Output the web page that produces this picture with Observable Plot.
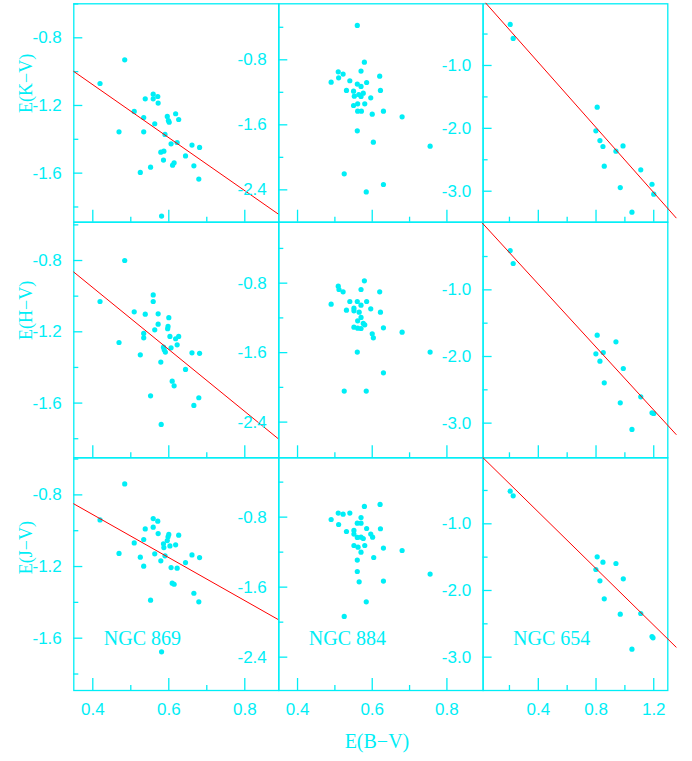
<!DOCTYPE html>
<html><head><meta charset="utf-8">
<script src="https://cdn.jsdelivr.net/npm/d3@7"></script>
<script src="https://cdn.jsdelivr.net/npm/@observablehq/plot@0.6"></script>
<style>
html,body{margin:0;padding:0;background:#fff;}
#chart{position:relative;width:692px;height:761px;overflow:hidden;}
#chart svg{position:absolute;left:0;top:0;max-width:none;}
</style></head><body><div id="chart"></div>
<script>
// ---------- data ----------
const clusters = ["NGC 869", "NGC 884", "NGC 654"];
const yTitles = ["E(K\u2212V)", "E(H\u2212V)", "E(J\u2212V)"];
const xTitle = "E(B\u2212V)";

// NGC 869
const k869_x = [0.484,0.419,0.559,0.571,0.559,0.538,0.572,0.509,0.618,0.596,0.534,0.626,0.599,0.601,0.563,0.469,0.534,0.590,0.622,0.606,0.661,0.681,0.587,0.579,0.644,0.586,0.614,0.610,0.666,0.552,0.525,0.679,0.581];
const k869_y = [-0.930,-1.070,-1.133,-1.147,-1.161,-1.161,-1.186,-1.235,-1.249,-1.265,-1.271,-1.283,-1.289,-1.299,-1.308,-1.356,-1.356,-1.371,-1.419,-1.427,-1.434,-1.448,-1.470,-1.476,-1.498,-1.523,-1.539,-1.553,-1.557,-1.565,-1.596,-1.635,-1.854];
const h869_x = [0.484,0.419,0.559,0.559,0.509,0.538,0.572,0.600,0.572,0.598,0.597,0.563,0.534,0.534,0.603,0.626,0.618,0.469,0.622,0.606,0.586,0.588,0.591,0.525,0.661,0.681,0.579,0.644,0.609,0.614,0.552,0.679,0.666,0.580];
const h869_y = [-0.800,-1.030,-0.993,-1.030,-1.088,-1.101,-1.099,-1.121,-1.157,-1.170,-1.183,-1.189,-1.209,-1.234,-1.226,-1.226,-1.239,-1.260,-1.273,-1.290,-1.286,-1.301,-1.314,-1.329,-1.318,-1.321,-1.370,-1.411,-1.477,-1.503,-1.559,-1.570,-1.613,-1.720];
const j869_x = [0.484,0.419,0.559,0.571,0.559,0.538,0.572,0.600,0.626,0.598,0.596,0.534,0.509,0.586,0.618,0.603,0.587,0.469,0.563,0.590,0.661,0.525,0.681,0.579,0.644,0.534,0.606,0.622,0.609,0.614,0.666,0.552,0.679,0.581];
const j869_y = [-0.739,-0.940,-0.932,-0.947,-0.980,-0.990,-1.016,-1.021,-1.025,-1.034,-1.055,-1.049,-1.068,-1.073,-1.079,-1.085,-1.094,-1.127,-1.129,-1.140,-1.135,-1.148,-1.150,-1.168,-1.178,-1.198,-1.206,-1.209,-1.293,-1.299,-1.349,-1.388,-1.397,-1.676];

// NGC 884
const k884_x = [0.560,0.579,0.509,0.522,0.570,0.620,0.510,0.490,0.540,0.560,0.585,0.570,0.531,0.550,0.622,0.564,0.576,0.552,0.570,0.596,0.561,0.580,0.550,0.561,0.571,0.630,0.600,0.680,0.560,0.603,0.755,0.525,0.630,0.584];
const k884_y = [-0.377,-0.829,-0.948,-0.976,-0.939,-1.001,-1.022,-1.075,-1.058,-1.099,-1.079,-1.128,-1.177,-1.186,-1.177,-1.227,-1.211,-1.248,-1.251,-1.268,-1.342,-1.342,-1.362,-1.432,-1.432,-1.432,-1.469,-1.502,-1.674,-1.813,-1.863,-2.203,-2.334,-2.425];
const h884_x = [0.579,0.509,0.511,0.522,0.570,0.620,0.490,0.540,0.560,0.585,0.570,0.531,0.551,0.551,0.596,0.622,0.565,0.570,0.561,0.576,0.580,0.551,0.561,0.570,0.630,0.680,0.600,0.603,0.560,0.755,0.630,0.525,0.584];
const h884_y = [-0.773,-0.835,-0.873,-0.900,-0.873,-0.900,-1.042,-1.011,-1.011,-1.011,-1.053,-1.111,-1.088,-1.118,-1.095,-1.134,-1.134,-1.195,-1.234,-1.264,-1.280,-1.307,-1.318,-1.322,-1.314,-1.364,-1.383,-1.429,-1.594,-1.594,-1.832,-2.043,-2.043];
const j884_x = [0.621,0.579,0.509,0.522,0.540,0.490,0.570,0.510,0.560,0.570,0.585,0.622,0.531,0.551,0.551,0.596,0.601,0.560,0.570,0.576,0.551,0.562,0.580,0.630,0.680,0.570,0.604,0.560,0.560,0.755,0.565,0.630,0.584,0.525];
const j884_y = [-0.655,-0.678,-0.754,-0.766,-0.754,-0.827,-0.804,-0.884,-0.869,-0.869,-0.930,-0.933,-0.964,-0.952,-0.994,-0.994,-1.029,-1.032,-1.029,-1.044,-1.124,-1.143,-1.124,-1.154,-1.181,-1.200,-1.261,-1.291,-1.421,-1.451,-1.539,-1.531,-1.768,-1.935];

// NGC 654
const k654_x = [0.205,0.226,0.808,0.799,0.827,0.848,0.987,0.938,0.857,1.110,1.188,0.968,1.200,1.049];
const k654_y = [-0.347,-0.570,-1.663,-2.040,-2.194,-2.289,-2.279,-2.363,-2.602,-2.660,-2.889,-2.942,-3.048,-3.334];
const h654_x = [0.205,0.226,0.808,0.938,0.799,0.850,0.827,0.989,0.857,1.110,0.968,1.188,1.200,1.049];
const h654_y = [-0.410,-0.605,-1.680,-1.780,-1.960,-1.940,-2.070,-2.180,-2.395,-2.605,-2.695,-2.845,-2.855,-3.095];
const j654_x = [0.205,0.226,0.808,0.848,0.938,0.799,0.989,0.827,0.857,0.968,1.110,1.188,1.195,1.049];
const j654_y = [-0.510,-0.580,-1.495,-1.575,-1.595,-1.685,-1.825,-1.855,-2.125,-2.355,-2.345,-2.690,-2.710,-2.880];

// fitted lines (end points)
const fitK869_x = [0.35, 0.8895], fitK869_y = [-0.999, -1.844];
const fitH869_x = [0.35, 0.888],  fitH869_y = [-0.865, -1.800];
const fitJ869_x = [0.35, 0.888],  fitJ869_y = [-0.850, -1.496];
const fitK654_x = [0.036, 1.355], fitK654_y = [-0.008, -3.424];
const fitH654_x = [0.013, 1.355], fitH654_y = [0.0, -3.17];
const fitJ654_x = [0.017, 1.355], fitJ654_y = [-0.01, -2.85];

// ticks per column
const xMajor = [[0.4,0.6,0.8],[0.4,0.6,0.8],[0.4,0.8,1.2]];
const xMinor = [[0.5,0.7],[0.5,0.7],[0.2,0.6,1.0]];
const yMajor = [[-0.8,-1.2,-1.6],[-0.8,-1.6,-2.4],[-1.0,-2.0,-3.0]];
const yMinor = [[-0.6,-1.0,-1.4,-1.8],[-0.4,-1.2,-2.0],[-0.5,-1.5,-2.5]];

// ---------- layout ----------
const W = 692, H = 761;
const CYAN = "#00eef6";
const SANS = "'Liberation Sans Narrow', 'Liberation Sans', Arial, sans-serif";
const SERIF = "'Liberation Serif', 'DejaVu Serif', serif";
const colEdges = [[73.3,278.3],[278.3,482.6],[482.6,667.3]];
const rowEdges = [[3.3,221.7],[221.7,457.3],[457.3,690]];
const xDomains = [[0.35,0.8895],[0.3498,0.8969],[0.0174,1.2974]];
const yDomains = [
  [[-1.890,-0.599],[-2.798,-0.111],[-3.493,-0.019]],
  [[-1.907,-0.585],[-2.811,-0.098],[-3.520,0.015]],
  [[-1.892,-0.593],[-2.781,-0.122],[-3.500,-0.010]]
];
const panels = [
  {row:0,col:0,xs:k869_x,ys:k869_y,fx:fitK869_x,fy:fitK869_y},
  {row:0,col:1,xs:k884_x,ys:k884_y},
  {row:0,col:2,xs:k654_x,ys:k654_y,fx:fitK654_x,fy:fitK654_y},
  {row:1,col:0,xs:h869_x,ys:h869_y,fx:fitH869_x,fy:fitH869_y},
  {row:1,col:1,xs:h884_x,ys:h884_y},
  {row:1,col:2,xs:h654_x,ys:h654_y,fx:fitH654_x,fy:fitH654_y},
  {row:2,col:0,xs:j869_x,ys:j869_y,fx:fitJ869_x,fy:fitJ869_y},
  {row:2,col:1,xs:j884_x,ys:j884_y},
  {row:2,col:2,xs:j654_x,ys:j654_y,fx:fitJ654_x,fy:fitJ654_y}
];

const fmt = d => d.toFixed(1);
const chart = document.getElementById("chart");

for (const p of panels) {
  const [x0,x1] = colEdges[p.col], [y0,y1] = rowEdges[p.row];
  const marks = [
    Plot.frame({stroke: CYAN, strokeWidth: 1.3}),
    Plot.axisX(xMajor[p.col], {anchor:"bottom", tickSize:-12, tickFormat:()=>"", label:null, stroke:CYAN, strokeWidth:1.3}),
    Plot.axisX(xMinor[p.col], {anchor:"bottom", tickSize:-5, tickFormat:()=>"", label:null, stroke:CYAN, strokeWidth:1.3}),
    Plot.axisY(yMajor[p.col], {anchor:"left", tickSize:-9, tickFormat:()=>"", label:null, stroke:CYAN, strokeWidth:1.3}),
    Plot.axisY(yMinor[p.col], {anchor:"left", tickSize:-5, tickFormat:()=>"", label:null, stroke:CYAN, strokeWidth:1.3}),
    Plot.axisY(yMajor[p.col], {anchor:"left", tickSize:0, tickPadding:12, tickFormat:fmt, label:null, fill:CYAN, fontSize:17, fontFamily:SANS})
  ];
  if (p.row === 2) {
    marks.push(Plot.axisX(xMajor[p.col], {anchor:"bottom", tickSize:0, tickPadding:12, tickFormat:fmt, label:null, fill:CYAN, fontSize:17, fontFamily:SANS}));
    marks.push(Plot.text([clusters[p.col]], {text:d=>d, frameAnchor:"bottom-left", dx:30, dy:-46, textAnchor:"start", fill:CYAN, fontSize:20, fontFamily:SERIF}));
    if (p.col === 1) marks.push(Plot.text([xTitle], {text:d=>d, frameAnchor:"bottom", dx:-4, dy:57, fill:CYAN, fontSize:20, fontFamily:SERIF}));
  }
  if (p.col === 0) {
    marks.push(Plot.text([yTitles[p.row]], {text:d=>d, frameAnchor:"left", dx:-48, rotate:-90, fill:CYAN, fontSize:18, fontFamily:SERIF}));
  }
  marks.push(Plot.dot(d3.zip(p.xs, p.ys), {x:d=>d[0], y:d=>d[1], r:2.6, fill:CYAN}));
  if (p.fx) marks.push(Plot.line(d3.zip(p.fx, p.fy), {x:d=>d[0], y:d=>d[1], stroke:"#ff0000", strokeWidth:1}));

  const svg = Plot.plot({
    width: W, height: H,
    marginLeft: x0, marginRight: W - x1, marginTop: y0, marginBottom: H - y1,
    x: {domain: xDomains[p.col]},
    y: {domain: yDomains[p.row][p.col]},
    style: {background:"transparent", color: CYAN, overflow:"visible"},
    marks
  });
  chart.appendChild(svg);
}
</script></body></html>
